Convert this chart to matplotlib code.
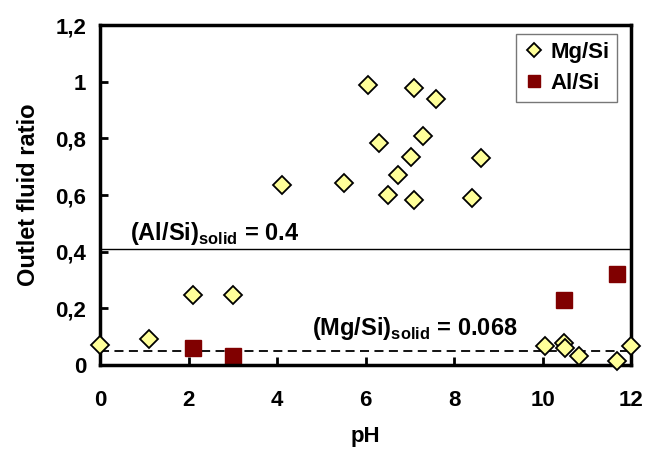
import matplotlib.pyplot as plt
from matplotlib.ticker import FuncFormatter

plt.rcParams["font.family"] = ["Liberation Sans", "DejaVu Sans"]
plt.rcParams["font.weight"] = "bold"
plt.rcParams["mathtext.fontset"] = "custom"
plt.rcParams["mathtext.rm"] = "Liberation Sans:bold"
plt.rcParams["mathtext.bf"] = "Liberation Sans:bold"

# Mg/Si outlet ratio vs pH
mg_ph = [0.0, 1.1, 2.1, 3.0, 4.1, 5.5, 6.05, 6.3, 6.5, 6.73, 7.03, 7.1, 7.1,
         7.3, 7.6, 8.4, 8.6, 10.06, 10.49, 10.5, 10.82, 11.68, 12.0]
mg_ratio = [0.07, 0.093, 0.247, 0.247, 0.637, 0.643, 0.99, 0.785, 0.60, 0.67,
            0.735, 0.978, 0.582, 0.81, 0.94, 0.588, 0.73, 0.068, 0.077, 0.059,
            0.032, 0.013, 0.068]

# Al/Si outlet ratio vs pH
al_ph = [2.1, 3.0, 10.49, 11.68]
al_ratio = [0.061, 0.03, 0.23, 0.32]

al_solid = 0.408
mg_solid_line = 0.048

x_ticks = [0, 2, 4, 6, 8, 10, 12]
y_ticks = [0, 0.2, 0.4, 0.6, 0.8, 1.0, 1.2]


def comma_fmt(v, pos):
    s = "%g" % round(v, 2)
    return s.replace(".", ",")


fig = plt.figure(figsize=(6.46, 4.5), dpi=100)
ax = fig.add_axes([0.155, 0.189, 0.822, 0.755])

ax.axhline(al_solid, color="black", linewidth=1.0, zorder=1)
ax.axhline(mg_solid_line, color="black", linewidth=1.3, linestyle=(0, (5, 3)), zorder=1)

ax.plot(mg_ph, mg_ratio, linestyle="none", marker="D", markersize=9.5,
        markerfacecolor="#FFFF99", markeredgecolor="black", markeredgewidth=1.3,
        label="Mg/Si", zorder=3, clip_on=False)
ax.plot(al_ph, al_ratio, linestyle="none", marker="s", markersize=11.5,
        markerfacecolor="#800000", markeredgecolor="#800000",
        label="Al/Si", zorder=2, clip_on=False)

ax.text(0.68, 0.443, r"(Al/Si)$_{\mathrm{solid}}$ = 0.4", fontsize=17,
        fontweight="bold", va="baseline", ha="left")
ax.text(4.79, 0.106, r"(Mg/Si)$_{\mathrm{solid}}$ = 0.068", fontsize=17,
        fontweight="bold", va="baseline", ha="left")

ax.set_xlim(0, 12)
ax.set_ylim(0, 1.2)
ax.set_xticks(x_ticks)
ax.set_yticks(y_ticks)
ax.yaxis.set_major_formatter(FuncFormatter(comma_fmt))
ax.tick_params(direction="in", length=6, width=2, labelsize=16)
ax.tick_params(axis="y", pad=10)
ax.tick_params(axis="x", pad=18)

for spine in ax.spines.values():
    spine.set_linewidth(2.5)
    spine.set_color("black")

ax.set_xlabel("pH", fontsize=16, fontweight="bold", labelpad=11)
ax.set_ylabel("Outlet fluid ratio", fontsize=17, fontweight="bold", labelpad=11)

leg = ax.legend(loc="upper right", bbox_to_anchor=(0.974, 0.974), borderaxespad=0,
                fancybox=False, edgecolor="#555555", fontsize=16,
                handlelength=0.9, handletextpad=0.3, borderpad=0.35,
                labelspacing=0.45, markerscale=0.75)
leg.get_frame().set_linewidth(1.0)

plt.savefig("out.png", dpi=100)
